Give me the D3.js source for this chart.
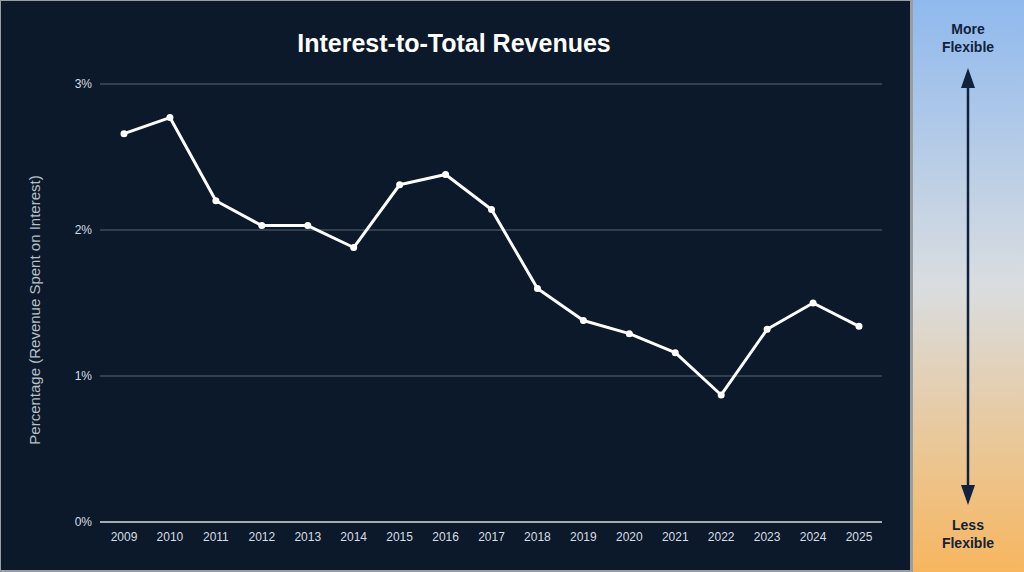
<!DOCTYPE html><html><head><meta charset="utf-8"><script src="https://cdn.jsdelivr.net/npm/d3@7"></script>
<style>body{margin:0;background:#fff}svg{display:block;font-family:"Liberation Sans",Arial,sans-serif}</style></head><body><svg id="c" width="1024" height="572"></svg>
<script>
const years=["2009","2010","2011","2012","2013","2014","2015","2016","2017","2018","2019","2020","2021","2022","2023","2024","2025"];
const values=[2.66,2.77,2.20,2.03,2.03,1.88,2.31,2.38,2.14,1.60,1.38,1.29,1.16,0.87,1.32,1.50,1.34];
const yTicks=[0,1,2,3];
const svg=d3.select("#c");
const defs=svg.append("defs");
const g=defs.append("linearGradient").attr("id","gr").attr("x1",0).attr("x2",0).attr("y1",0).attr("y2",1);
g.append("stop").attr("offset","0%").attr("stop-color","#8fb9ee");
g.append("stop").attr("offset","50%").attr("stop-color","#d9dde0");
g.append("stop").attr("offset","100%").attr("stop-color","#f7b65e");
svg.append("rect").attr("width",1024).attr("height",572).attr("fill","#9a9ea3");
svg.append("rect").attr("x",1).attr("y",1).attr("width",909).attr("height",569).attr("fill","#0b192b");
svg.append("rect").attr("x",913).attr("y",0).attr("width",111).attr("height",572).attr("fill","url(#gr)");
const x=d3.scalePoint().domain(years).range([124,859]);
const y=d3.scaleLinear().domain([0,3]).range([522,84]);
svg.append("g").selectAll("line").data(yTicks.filter(d=>d>0)).join("line")
 .attr("x1",100).attr("x2",882).attr("y1",d=>y(d)).attr("y2",d=>y(d)).attr("stroke","#5a6675").attr("stroke-width",1);
svg.append("line").attr("x1",100).attr("x2",882).attr("y1",y(0)).attr("y2",y(0)).attr("stroke","#d8dde2").attr("stroke-width",1.5);
svg.append("g").selectAll("text").data(yTicks).join("text").attr("x",92).attr("y",d=>y(d)+4).attr("text-anchor","end")
 .attr("fill","#d8dde2").attr("font-size",12).text(d=>d+"%");
svg.append("g").selectAll("text").data(years).join("text").attr("x",d=>x(d)).attr("y",541).attr("text-anchor","middle")
 .attr("fill","#d8dde2").attr("font-size",12).text(d=>d);
svg.append("text").attr("transform","translate(40,310) rotate(-90)").attr("text-anchor","middle").attr("fill","#b9c0c8").attr("font-size",15).text("Percentage (Revenue Spent on Interest)");
svg.append("text").attr("x",454).attr("y",52).attr("text-anchor","middle").attr("fill","#fff").attr("font-size",25).attr("font-weight","bold").text("Interest-to-Total Revenues");
const line=d3.line().x((d,i)=>x(years[i])).y(d=>y(d));
svg.append("path").datum(values).attr("d",line).attr("fill","none").attr("stroke","#fff").attr("stroke-width",3).attr("stroke-linejoin","round");
svg.append("g").selectAll("circle").data(values).join("circle").attr("cx",(d,i)=>x(years[i])).attr("cy",d=>y(d)).attr("r",3.5).attr("fill","#fff");
const c="#10223d";
[["More",34],["Flexible",52]].forEach(([t,yy])=>svg.append("text").attr("x",968).attr("y",yy).attr("text-anchor","middle").attr("fill",c).attr("font-size",14).attr("font-weight","bold").text(t));
[["Less",530],["Flexible",548]].forEach(([t,yy])=>svg.append("text").attr("x",968).attr("y",yy).attr("text-anchor","middle").attr("fill",c).attr("font-size",14).attr("font-weight","bold").text(t));
svg.append("line").attr("x1",968).attr("x2",968).attr("y1",85).attr("y2",488).attr("stroke",c).attr("stroke-width",2.5);
svg.append("path").attr("d","M968,68 L961,88 L975,88 Z").attr("fill",c);
svg.append("path").attr("d","M968,505 L961,485 L975,485 Z").attr("fill",c);
</script></body></html>
